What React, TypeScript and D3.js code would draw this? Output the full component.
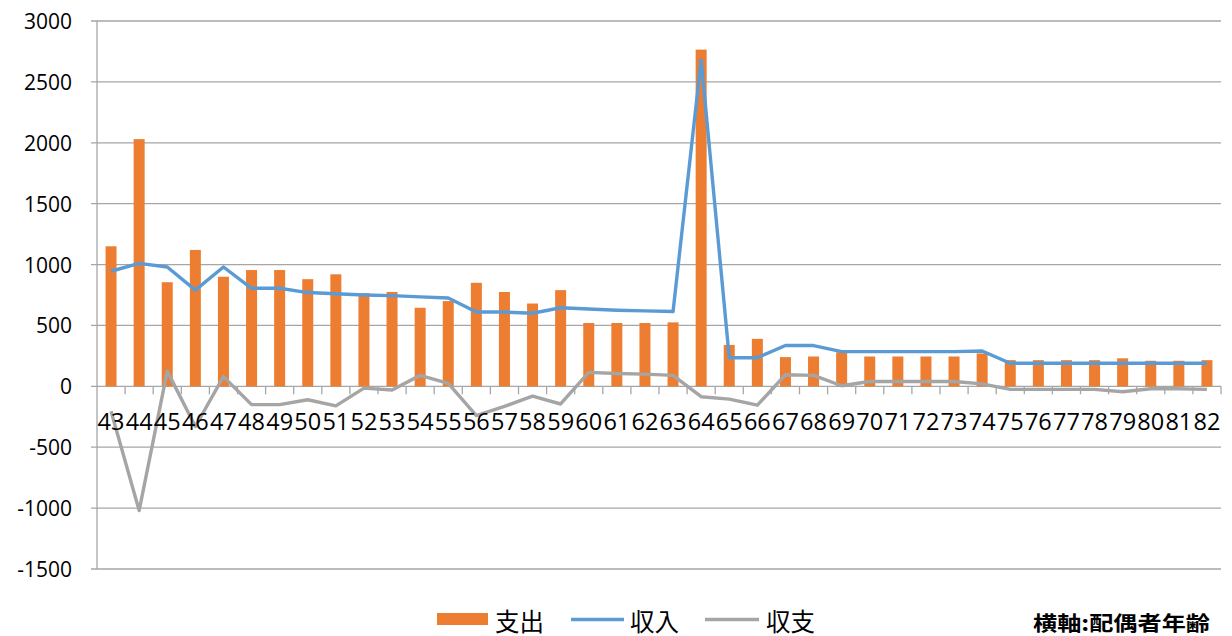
import React from "react";
import * as d3 from "d3";

const ages = [
  "43","44","45","46","47","48","49","50","51","52","53","54","55","56","57","58","59","60","61","62",
  "63","64","65","66","67","68","69","70","71","72","73","74","75","76","77","78","79","80","81","82",
];
const expense = [
  1150, 2030, 855, 1120, 900, 955, 955, 880, 920, 765, 775, 645, 700, 850, 775, 680, 790, 520, 520, 520,
  525, 2765, 340, 390, 240, 245, 280, 245, 245, 245, 245, 270, 215, 215, 215, 215, 230, 210, 210, 215,
];
const income = [
  945, 1010, 980, 790, 980, 805, 805, 770, 760, 750, 745, 735, 725, 610, 610, 600, 645, 635, 625, 620,
  615, 2680, 235, 235, 335, 335, 285, 285, 285, 285, 285, 290, 190, 190, 190, 190, 190, 190, 190, 190,
];
const balance = [
  -205, -1020, 125, -330, 80, -150, -150, -110, -160, -15, -30, 90, 25, -240, -165, -80, -145, 115, 105, 100,
  90, -85, -105, -155, 95, 90, 5, 40, 40, 40, 40, 20, -25, -25, -25, -25, -45, -20, -20, -25,
];
const yTicks = [-1500, -1000, -500, 0, 500, 1000, 1500, 2000, 2500, 3000];
const legendLabels = ["支出", "収入", "収支"];
const axisNote = "横軸:配偶者年齢";

const W = 1232;
const H = 636;
const left = 97;
const right = 1221;
const top = 21;
const bottom = 569;

export default function App() {
  const x = d3.scaleBand<string>().domain(ages).range([left, right]).paddingInner(0).paddingOuter(0);
  const y = d3.scaleLinear().domain([-1500, 3000]).range([bottom, top]);
  const bw = x.bandwidth();
  const barW = 11;
  const cx = (a: string) => (x(a) as number) + bw / 2;
  const line = d3
    .line<number>()
    .x((_, i) => cx(ages[i]))
    .y((d) => y(d));
  const y0 = y(0);
  const font = "'Open Sans', 'Noto Sans', sans-serif";
  const cjk = "'Noto Sans CJK JP', 'Noto Sans', sans-serif";

  return (
    <svg
      width={W}
      height={H}
      style={{ position: "absolute", left: 0, top: 0, background: "#fff" }}
    >
      {yTicks.map((t) => (
        <g key={t}>
          <line x1={left - 6} x2={right} y1={y(t)} y2={y(t)} stroke="#a6a6a6" strokeWidth={1.3} />
          <text
            x={72}
            y={y(t)}
            textAnchor="end"
            dominantBaseline="central"
            fontFamily={font}
            fontSize={21}
            fill="#000"
          >
            {t}
          </text>
        </g>
      ))}
      <line x1={left} x2={left} y1={top} y2={bottom} stroke="#a6a6a6" strokeWidth={1.3} />
      {ages.map((a) => (
        <line
          key={"t" + a}
          x1={(x(a) as number) + bw}
          x2={(x(a) as number) + bw}
          y1={y0}
          y2={y0 + 8}
          stroke="#a6a6a6"
          strokeWidth={1.3}
        />
      ))}
      {ages.map((a, i) => {
        const v = expense[i];
        return (
          <rect
            key={"b" + a}
            x={cx(a) - barW / 2}
            y={y(Math.max(0, v))}
            width={barW}
            height={Math.abs(y(v) - y0)}
            fill="#ED7D31"
          />
        );
      })}
      <path d={line(balance) || ""} fill="none" stroke="#A5A5A5" strokeWidth={3.4} strokeLinejoin="round" />
      <path d={line(income) || ""} fill="none" stroke="#5B9BD5" strokeWidth={3.4} strokeLinejoin="round" />
      {ages.map((a) => (
        <text
          key={"l" + a}
          x={cx(a)}
          y={421}
          textAnchor="middle"
          dominantBaseline="central"
          fontFamily={font}
          fontSize={23.5}
          fill="#000"
        >
          {a}
        </text>
      ))}
      {/* legend */}
      <rect x={437} y={613} width={51} height={12} fill="#ED7D31" />
      <text x={495} y={620} dominantBaseline="central" fontFamily={cjk} fontSize={24.5} fill="#000">
        {legendLabels[0]}
      </text>
      <line x1={571} x2={624} y1={619.5} y2={619.5} stroke="#5B9BD5" strokeWidth={3.4} />
      <text x={630} y={620} dominantBaseline="central" fontFamily={cjk} fontSize={24.5} fill="#000">
        {legendLabels[1]}
      </text>
      <line x1={705} x2={759} y1={619.5} y2={619.5} stroke="#A5A5A5" strokeWidth={3.4} />
      <text x={766} y={620} dominantBaseline="central" fontFamily={cjk} fontSize={24.5} fill="#000">
        {legendLabels[2]}
      </text>
      <text
        x={1033}
        y={622}
        dominantBaseline="central"
        fontFamily={cjk}
        fontWeight="bold"
        fontSize={20.5}
        textLength={177}
        lengthAdjust="spacingAndGlyphs"
        fill="#000"
      >
        {axisNote}
      </text>
    </svg>
  );
}
